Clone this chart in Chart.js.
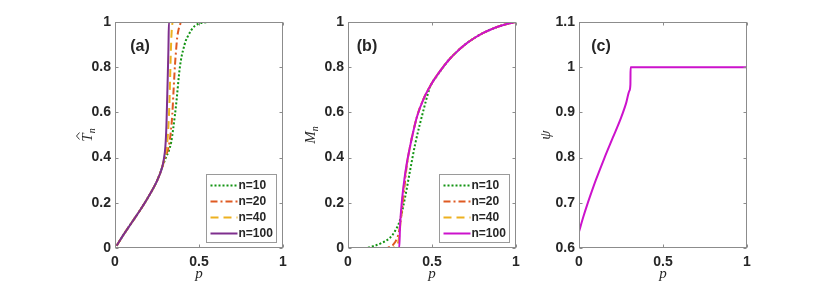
<!DOCTYPE html>
<html>
<head>
<meta charset="utf-8">
<script src="https://cdn.jsdelivr.net/npm/chart.js@4.4.1/dist/chart.umd.min.js"></script>
<style>
html, body { margin: 0; padding: 0; background: #fff; }
#wrap { position: relative; width: 826px; height: 285px; overflow: hidden; }
canvas { position: absolute; top: 0; }
</style>
</head>
<body>
<div id="wrap">
  <canvas id="panel_a" width="253" height="285" style="left:45px"></canvas>
  <canvas id="panel_b" width="253" height="285" style="left:278px"></canvas>
  <canvas id="panel_c" width="253" height="285" style="left:509px"></canvas>
</div>
<script>
// legend labels
var seriesLabels = ['n=10', 'n=20', 'n=40', 'n=100'];

// panel (a): common low part, then each n
var a_pLow = [0.01, 0.05, 0.1, 0.15, 0.2, 0.25, 0.28];
var a_tLow = [0.01, 0.058, 0.113, 0.168, 0.228, 0.297, 0.355];
var a10_p = [0.3, 0.32, 0.335, 0.345, 0.357, 0.366, 0.373, 0.38, 0.387, 0.397, 0.407, 0.42, 0.436, 0.455, 0.476, 0.5, 0.53, 0.575, 1];
var a10_t = [0.395, 0.43, 0.47, 0.52, 0.59, 0.65, 0.705, 0.76, 0.805, 0.85, 0.88, 0.915, 0.94, 0.965, 0.983, 0.993, 0.998, 1, 1];
var a20_p = [0.3, 0.315, 0.325, 0.333, 0.341, 0.346, 0.351, 0.357, 0.363, 0.37, 0.378, 0.388, 0.4, 1];
var a20_t = [0.405, 0.435, 0.47, 0.52, 0.59, 0.66, 0.73, 0.81, 0.87, 0.93, 0.965, 0.99, 1, 1];
var a40_p = [0.29, 0.3, 0.31, 0.318, 0.324, 0.328, 0.332, 0.336, 0.34, 0.345, 1];
var a40_t = [0.385, 0.415, 0.46, 0.54, 0.64, 0.75, 0.86, 0.94, 0.985, 1, 1];
var a100_p = [0.29, 0.3, 0.306, 0.313, 0.318, 0.321, 1];
var a100_t = [0.39, 0.45, 0.54, 0.73, 0.88, 1, 1];

// panel (b): low part per n, shared upper part
var b_pHigh = [0.371, 0.39, 0.41, 0.45, 0.5, 0.55, 0.6, 0.65, 0.7, 0.75, 0.8, 0.85, 0.9, 0.95, 1];
var b_mHigh = [0.455, 0.52, 0.58, 0.66, 0.73, 0.785, 0.832, 0.87, 0.902, 0.928, 0.95, 0.967, 0.981, 0.992, 1];
var b10_p = [0, 0.1, 0.15, 0.2, 0.25, 0.28, 0.31, 0.34, 0.37, 0.4, 0.45, 0.49, 0.53, 0.6, 0.65, 0.7, 0.75, 0.8, 0.85, 0.9, 0.95, 1];
var b10_m = [0, 0, 0.008, 0.022, 0.045, 0.075, 0.125, 0.225, 0.345, 0.46, 0.612, 0.715, 0.762, 0.832, 0.87, 0.902, 0.928, 0.95, 0.967, 0.981, 0.992, 1];
var b20_p = [0, 0.2, 0.25, 0.28, 0.3, 0.31, 0.32, 0.335, 0.35];
var b20_m = [0, 0, 0.005, 0.025, 0.06, 0.1, 0.16, 0.262, 0.365];
var b40_p = [0, 0.25, 0.28, 0.3, 0.31, 0.32, 0.335, 0.35];
var b40_m = [0, 0, 0.005, 0.03, 0.09, 0.19, 0.29, 0.37];
var b100_p = [0, 0.305, 0.31, 0.32, 0.335, 0.35];
var b100_m = [0, 0, 0.1, 0.2, 0.3, 0.375];

// panel (c)
var c_p = [0, 0.025, 0.05, 0.075, 0.1, 0.15, 0.2, 0.25, 0.28, 0.3, 0.306, 0.307, 1];
var c_psi = [0.636, 0.668, 0.697, 0.724, 0.75, 0.798, 0.843, 0.888, 0.92, 0.948, 0.962, 1, 1];

var xTicks = [0, 0.5, 1];

function pts(px, py) {
    var out = [];
    for (var i = 0; i < px.length; i++) out.push({x: px[i], y: py[i]});
    return out;
}

// order: smaller is drawn later (on top), like matlab's last plotted line
var styles = [
    {borderColor: '#139413', borderDash: [2, 2], borderWidth: 2, order: 3},
    {borderColor: '#DF5A22', borderDash: [7, 3, 2, 3], borderWidth: 2, order: 2},
    {borderColor: '#EDB120', borderDash: [8, 5], borderWidth: 2, order: 1},
    {borderColor: '#7E2F8E', borderDash: [], borderWidth: 2, order: 0}
];

function ds(label, data, st, color) {
    return {
        label: label,
        data: data,
        order: st.order,
        borderColor: color || st.borderColor,
        borderDash: st.borderDash,
        borderWidth: st.borderWidth,
        pointRadius: 0,
        fill: false,
        cubicInterpolationMode: 'monotone',
        borderCapStyle: 'butt'
    };
}

function mathText(ctx, x, y, main, sub, hat) {
    ctx.font = 'italic 15px "Liberation Serif", serif';
    var wm = ctx.measureText(main).width;
    ctx.font = 'italic 10px "Liberation Serif", serif';
    var ws = sub ? ctx.measureText(sub).width : 0;
    var sx = x - (wm + ws) / 2;
    ctx.textAlign = 'left';
    ctx.textBaseline = 'alphabetic';
    ctx.font = 'italic 15px "Liberation Serif", serif';
    ctx.fillText(main, sx, y + 5);
    if (sub) {
        ctx.font = 'italic 10px "Liberation Serif", serif';
        ctx.fillText(sub, sx + wm, y + 8);
    }
    if (hat) {
        var cx = sx + wm / 2 + 1.5;
        ctx.beginPath();
        ctx.lineWidth = 0.9;
        ctx.moveTo(cx - 3.5, y - 7.5);
        ctx.lineTo(cx, y - 10.5);
        ctx.lineTo(cx + 3.5, y - 7.5);
        ctx.stroke();
    }
}

var deco = {
    id: 'deco',
    afterDatasetsDraw: function (chart, args, o) {
        var ctx = chart.ctx, a = chart.chartArea;
        var sx = chart.scales.x, sy = chart.scales.y;
        ctx.save();

        // frame and inward ticks
        var L = Math.round(a.left) + 0.5, R = Math.round(a.right) - 0.5;
        var T = Math.round(a.top) + 0.5, B = Math.round(a.bottom) - 0.5;
        ctx.strokeStyle = '#8c8c8c';
        ctx.lineWidth = 1;
        ctx.setLineDash([]);
        ctx.strokeRect(L, T, R - L, B - T);
        ctx.beginPath();
        sx.ticks.forEach(function (t) {
            var px = Math.round(sx.getPixelForValue(t.value)) + 0.5;
            ctx.moveTo(px, B); ctx.lineTo(px, B - 3);
            ctx.moveTo(px, T); ctx.lineTo(px, T + 3);
        });
        sy.ticks.forEach(function (t) {
            var py = Math.round(sy.getPixelForValue(t.value)) + 0.5;
            ctx.moveTo(L, py); ctx.lineTo(L + 3, py);
            ctx.moveTo(R, py); ctx.lineTo(R - 3, py);
        });
        ctx.stroke();

        // legend box inside the axes
        if (o.legend) {
            var bx = Math.round(a.left + 91) + 0.5, by = Math.round(a.top + 152) + 0.5;
            var bw = 70, bh = 68;
            ctx.fillStyle = '#fff';
            ctx.fillRect(bx, by, bw, bh);
            ctx.strokeStyle = '#9a9a9a';
            ctx.strokeRect(bx, by, bw, bh);
            chart.data.datasets.forEach(function (d, i) {
                var ry = by + 11 + i * 16;
                ctx.beginPath();
                ctx.strokeStyle = d.borderColor;
                ctx.lineWidth = d.borderWidth;
                ctx.setLineDash(d.borderDash || []);
                ctx.moveTo(bx + 4, ry);
                ctx.lineTo(bx + 31, ry);
                ctx.stroke();
                ctx.setLineDash([]);
                ctx.fillStyle = '#262626';
                ctx.font = 'bold 12px "Liberation Sans", Arial, sans-serif';
                ctx.textAlign = 'left';
                ctx.textBaseline = 'middle';
                ctx.fillText(d.label, bx + 32, ry + 0.5);
            });
        }

        // panel tag
        ctx.fillStyle = '#262626';
        ctx.font = 'bold 16px "Liberation Sans", Arial, sans-serif';
        ctx.textAlign = 'center';
        ctx.textBaseline = 'middle';
        ctx.fillText(o.tag, a.left + o.tagDx, a.top + 25);

        // axis titles
        ctx.strokeStyle = '#262626';
        mathText(ctx, (a.left + a.right) / 2, 273, 'p', '', false);
        ctx.save();
        ctx.translate(a.left - o.yDx, (a.top + a.bottom) / 2);
        ctx.rotate(-Math.PI / 2);
        mathText(ctx, 0, 0, o.yMain, o.ySub, o.yHat);
        ctx.restore();

        ctx.restore();
    }
};

function fmt(v) { return String(+(+v).toFixed(2)); }

function makePanel(id, datasets, yMin, yMax, yStep, deco_opts) {
    var tickFont = {family: '"Liberation Sans", Arial, sans-serif', weight: 'bold', size: 14};
    return new Chart(document.getElementById(id).getContext('2d'), {
        type: 'line',
        data: {datasets: datasets},
        plugins: [deco],
        options: {
            responsive: false,
            animation: false,
            layout: {padding: {top: 22, right: 15, left: 0, bottom: 0}},
            plugins: {legend: {display: false}, tooltip: {enabled: false}, deco: deco_opts},
            scales: {
                x: {
                    type: 'linear', min: 0, max: 1,
                    afterBuildTicks: function (s) { s.ticks = xTicks.map(function (v) { return {value: v}; }); },
                    afterFit: function (s) { s.height = 37; },
                    grid: {display: false, drawTicks: false},
                    border: {display: false},
                    ticks: {font: tickFont, color: '#262626', padding: 6, autoSkip: false, maxRotation: 0, callback: fmt}
                },
                y: {
                    type: 'linear', min: yMin, max: yMax,
                    ticks: {stepSize: yStep, font: tickFont, color: '#262626', padding: 4, autoSkip: false, callback: fmt},
                    afterFit: function (s) { s.width = 70; },
                    grid: {display: false, drawTicks: false},
                    border: {display: false}
                }
            }
        }
    });
}

var chartA = makePanel('panel_a', [
    ds(seriesLabels[0], pts(a_pLow.concat(a10_p), a_tLow.concat(a10_t)), styles[0]),
    ds(seriesLabels[1], pts(a_pLow.concat(a20_p), a_tLow.concat(a20_t)), styles[1]),
    ds(seriesLabels[2], pts(a_pLow.concat(a40_p), a_tLow.concat(a40_t)), styles[2]),
    ds(seriesLabels[3], pts(a_pLow.concat(a100_p), a_tLow.concat(a100_t)), styles[3])
], 0, 1, 0.2, {legend: true, tag: '(a)', tagDx: 25, yDx: 28, yMain: 'T', ySub: 'n', yHat: true});

var chartB = makePanel('panel_b', [
    ds(seriesLabels[0], pts(b10_p, b10_m), styles[0]),
    ds(seriesLabels[1], pts(b20_p.concat(b_pHigh), b20_m.concat(b_mHigh)), styles[1]),
    ds(seriesLabels[2], pts(b40_p.concat(b_pHigh), b40_m.concat(b_mHigh)), styles[2]),
    ds(seriesLabels[3], pts(b100_p.concat(b_pHigh), b100_m.concat(b_mHigh)), styles[3], '#CC12CC')
], 0, 1, 0.2, {legend: true, tag: '(b)', tagDx: 19, yDx: 38, yMain: 'M', ySub: 'n', yHat: false});

var chartC = makePanel('panel_c', [
    ds('psi', pts(c_p, c_psi), styles[3], '#CC12CC')
], 0.6, 1.1, 0.1, {legend: false, tag: '(c)', tagDx: 22, yDx: 34, yMain: 'ψ', ySub: '', yHat: false});
</script>
</body>
</html>
